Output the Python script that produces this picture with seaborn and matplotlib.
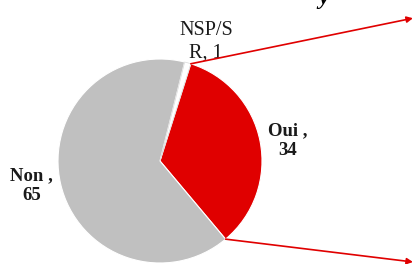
import matplotlib
matplotlib.use("Agg")
import matplotlib.pyplot as plt
import seaborn as sns
import numpy as np

categories = ["Oui", "Non", "NSP/S\nR"]
values = [34, 65, 1]
colors = ["#E00000", "#C0C0C0", "#FFFFFF"]
label_pos = [(1.25, 0.20), (-1.26, -0.24), (0.45, 1.17)]

sns.set_theme(style="white")
plt.rcParams['font.family'] = ['Liberation Serif', 'DejaVu Serif']

fig = plt.figure(figsize=(4.13, 2.64), dpi=100)
ax = fig.add_axes([0, 0, 1, 1])

start = 90 - 17.6
wedges, _ = ax.pie(values, colors=colors, startangle=start, counterclock=False,
                   radius=1.0, wedgeprops=dict(edgecolor="white", linewidth=0.8))
wedges[2].set_edgecolor("#D9D9D9")
wedges[2].set_linewidth(0.5)

for cat, v, (lx, ly) in zip(categories, values, label_pos):
    nsp = cat.startswith("NSP")
    ax.text(lx, ly, f"{cat}, {v}" if nsp else f"{cat} ,\n{v}",
            ha="center", va="center", fontsize=14.5 if nsp else 13.5,
            fontweight="normal" if nsp else "bold", color="#1a1a1a",
            linespacing=1.2)

# connector lines from Oui wedge edges
t1 = np.deg2rad(wedges[0].theta2)
t2 = np.deg2rad(wedges[0].theta1)
for t, end in [(t1, (2.48, 1.40)), (t2, (2.48, -0.99))]:
    ax.annotate("", xy=end, xytext=(np.cos(t), np.sin(t)),
                arrowprops=dict(arrowstyle="-|>", color="#E00000", lw=1.2,
                                mutation_scale=9, shrinkA=0, shrinkB=0))

ax.text(1.60, 1.54, "y", fontsize=17, fontweight="bold", fontstyle="italic",
        ha="center", va="baseline", color="black")

ax.set_xlim(-160/102, 253/102)
ax.set_ylim(-103/102, 161/102)
ax.set_aspect("auto")
ax.axis("off")
fig.savefig("out.png", dpi=100)
